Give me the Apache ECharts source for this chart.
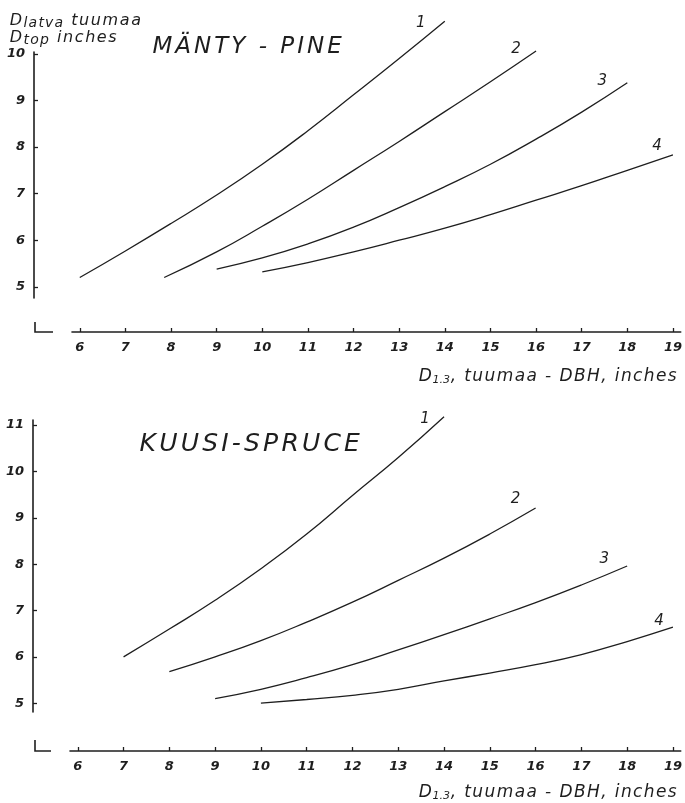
<!DOCTYPE html>
<html><head><meta charset="utf-8">
<script src="https://cdn.jsdelivr.net/npm/echarts@6/dist/echarts.min.js"></script>
<style>html,body{margin:0;padding:0;background:#fff}#c{width:685px;height:803px}</style>
</head><body><div id="c"></div>
<script>
// ---- data ----
const xTicks = [6,7,8,9,10,11,12,13,14,15,16,17,18,19];
const pineYTicks = [5,6,7,8,9,10];
const spruceYTicks = [5,6,7,8,9,10,11];
const curveNames = ['1','2','3','4'];

// MÄNTY - PINE
const pine1X = [6,7,8,9,10,11,12,13,14];
const pine1Y = [5.2,5.77,6.36,6.97,7.63,8.35,9.12,9.9,10.7];
const pine2X = [7.85,9,10,11,12,13,14,15,16];
const pine2Y = [5.2,5.75,6.3,6.88,7.5,8.12,8.76,9.4,10.06];
const pine3X = [9,10,11,12,13,14,15,16,17,18];
const pine3Y = [5.38,5.62,5.92,6.28,6.7,7.15,7.63,8.17,8.75,9.38];
const pine4X = [10,11,12,13,14,15,16,17,18,19];
const pine4Y = [5.32,5.52,5.75,6.0,6.26,6.55,6.86,7.17,7.5,7.83];

// KUUSI - SPRUCE
const spruce1X = [7,8,9,10,11,12,13,14];
const spruce1Y = [6.0,6.6,7.22,7.9,8.65,9.48,10.3,11.18];
const spruce2X = [8,9,10,11,12,13,14,15,16];
const spruce2Y = [5.68,6.0,6.35,6.75,7.18,7.65,8.13,8.65,9.21];
const spruce3X = [9,10,11,12,13,14,15,16,17,18];
const spruce3Y = [5.1,5.3,5.55,5.83,6.15,6.48,6.82,7.17,7.55,7.96];
const spruce4X = [10,11,12,13,14,15,16,17,18,19];
const spruce4Y = [5.0,5.08,5.17,5.3,5.48,5.65,5.83,6.05,6.33,6.64];

// ---- styling / layout (not data) ----
const INK = '#1e1e1e';
const FONT = 'DejaVu Sans';
const pineLabelOffsets = [[-24,2],[-20,-2],[-25,-2],[-16,-9]];
const spruceLabelOffsets = [[-19,2],[-20,-9],[-23,-7],[-14,-6]];

const zip = (xs, ys) => xs.map((x, i) => [x, ys[i]]);
const pineData = [zip(pine1X,pine1Y), zip(pine2X,pine2Y), zip(pine3X,pine3Y), zip(pine4X,pine4Y)];
const spruceData = [zip(spruce1X,spruce1Y), zip(spruce2X,spruce2Y), zip(spruce3X,spruce3Y), zip(spruce4X,spruce4Y)];

const tickLabel = {
  color: INK, fontFamily: FONT, fontStyle: 'italic', fontWeight: 'bold', fontSize: 13
};

function xAxis(gridIndex, offset) {
  return {
    type: 'value', gridIndex, min: 5.83, max: 19.17, offset,
    axisLine: {show: true, onZero: false, lineStyle: {color: INK, width: 1.6}},
    axisTick: {show: true, inside: true, length: 4, customValues: xTicks, lineStyle: {color: INK, width: 1.3}},
    axisLabel: Object.assign({margin: 9, customValues: xTicks}, tickLabel),
    splitLine: {show: false}
  };
}
function yAxis(gridIndex, min, max, ticks, offset) {
  return {
    type: 'value', gridIndex, min, max, offset, position: 'left',
    axisLine: {show: true, onZero: false, lineStyle: {color: INK, width: 1.6}},
    axisTick: {show: true, inside: true, length: 4, customValues: ticks, lineStyle: {color: INK, width: 1.3}},
    axisLabel: Object.assign({margin: 9, customValues: ticks}, tickLabel),
    splitLine: {show: false}
  };
}

const series = [];
function addSeries(dataArr, idx, offsets) {
  dataArr.forEach((d, i) => {
    series.push({
      type: 'line', name: curveNames[i], xAxisIndex: idx, yAxisIndex: idx,
      data: d, smooth: true, showSymbol: false, symbol: 'none', clip: false,
      lineStyle: {color: INK, width: 1.3},
      endLabel: {show: true, formatter: '{a}', distance: 0, align: 'center', verticalAlign: 'middle',
        offset: offsets[i], color: INK, fontFamily: FONT, fontStyle: 'italic', fontSize: 15},
      silent: true, animation: false
    });
  });
}
addSeries(pineData, 0, pineLabelOffsets);
addSeries(spruceData, 1, spruceLabelOffsets);

// spaced-letter text helper (each glyph a rich fragment with side padding)
function spaced(str, style) {
  return str.split('').map(ch => '{' + (style || 'c') + '|' + (ch === ' ' ? '\u00a0' : ch) + '}').join('');
}

const axisTitle = {
  text: spaced('D', 'd') + spaced('1.3', 's') + spaced(', tuumaa - DBH, inches', 'd'),
  textStyle: {fontWeight: 'normal', rich: {
    d: {fontFamily: FONT, fontStyle: 'italic', fontWeight: 'normal', fontSize: 17, color: INK, padding: [0,0.7,0,0.7]},
    s: {fontFamily: FONT, fontStyle: 'italic', fontWeight: 'normal', fontSize: 11, color: INK, padding: [7,0,0,0]}
  }}
};

const option = {
  backgroundColor: '#ffffff',
  animation: false,
  title: [
    {text: spaced('MÄNTY - PINE'), left: 146, top: 31,
      textStyle: {fontWeight: 'normal', rich: {
        c: {fontFamily: FONT, fontStyle: 'italic', fontWeight: 'normal', fontSize: 23, color: INK, padding: [0,1.5,0,1.5]}
      }}},
    {text: spaced('KUUSI-SPRUCE'), left: 133, top: 427,
      textStyle: {fontWeight: 'normal', rich: {
        c: {fontFamily: FONT, fontStyle: 'italic', fontWeight: 'normal', fontSize: 25, color: INK, padding: [0,1.6,0,1.6]}
      }}},
    {text: spaced('D', 'd') + spaced('latva', 's') + spaced(' tuumaa', 'd') + '\n' +
           spaced('D', 'd') + spaced('top', 's') + spaced(' inches', 'd'),
      left: 4, top: 7,
      textStyle: {fontWeight: 'normal', lineHeight: 17, rich: {
        d: {fontFamily: FONT, fontStyle: 'italic', fontWeight: 'normal', fontSize: 16, color: INK, lineHeight: 17, padding: [0,0.8,0,0.8]},
        s: {fontFamily: FONT, fontStyle: 'italic', fontWeight: 'normal', fontSize: 14, color: INK, lineHeight: 17, padding: [5,0.6,0,0.6]}
      }}},
    Object.assign({right: 4, top: 363}, axisTitle),
    Object.assign({right: 4, top: 779}, axisTitle)
  ],
  grid: [
    {left: 72, right: 0, top: 52, height: 246},
    {left: 70, right: 0, top: 420, height: 292}
  ],
  xAxis: [xAxis(0, 34), xAxis(1, 39)],
  yAxis: [yAxis(0, 4.76, 10.04, pineYTicks, 38), yAxis(1, 4.81, 11.11, spruceYTicks, 37)],
  series,
  graphic: [
    {type: 'polyline', shape: {points: [[35,322],[35,332],[53,332]]}, style: {stroke: INK, lineWidth: 1.6, fill: null}},
    {type: 'polyline', shape: {points: [[35,740],[35,751],[51,751]]}, style: {stroke: INK, lineWidth: 1.6, fill: null}}
  ]
};

const chart = echarts.init(document.getElementById('c'), null, {renderer: 'canvas'});
chart.setOption(option);
</script>
</body></html>
